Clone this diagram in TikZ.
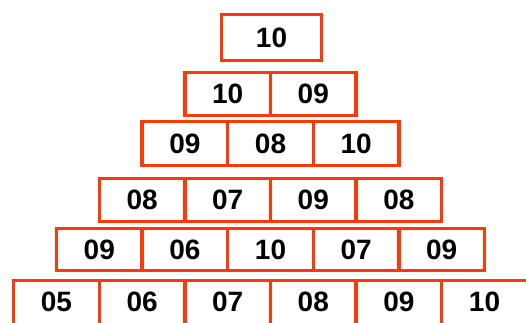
\documentclass[tikz,border=0pt]{standalone}
\usepackage{fontspec}
\setmainfont{Liberation Sans}
\definecolor{boxred}{RGB}{255,56,8}
\tikzset{
  cell/.style={draw=boxred, line width=3.3pt, rectangle, inner sep=0pt,
    minimum width=85.6pt, font=\fontsize{28}{30}\selectfont\bfseries, text=black},
  celltext/.style={inner sep=0pt, font=\fontsize{28}{30}\selectfont\bfseries, text=black},
}
\begin{document}
\begin{tikzpicture}[x=1pt,y=-1pt]
\useasboundingbox (0,0) rectangle (526,322);
\clip (0,0) rectangle (526,322);
% row 1
\node[cell, minimum width=100pt, minimum height=46pt] (r1c1) at (271.5,37.5) {10};
% row 2
\foreach \t [count=\j] in {10,09}
  \node[cell, minimum height=43pt] (r2c\j) at ({270.5+(\j-1.5)*85.6},94) {\t};
% row 3
\foreach \t [count=\j] in {09,08,10}
  \node[cell, minimum height=44pt] (r3c\j) at ({270.5+(\j-2)*85.6},143.5) {\t};
% row 4
\foreach \t [count=\j] in {08,07,09,08}
  \node[cell, minimum height=43pt] (r4c\j) at ({270.5+(\j-2.5)*85.6},200) {\t};
% row 5
\foreach \t [count=\j] in {09,06,10,07,09}
  \node[cell, minimum height=42pt] (r5c\j) at ({270.5+(\j-3)*85.6},249.5) {\t};
% row 6 (runs past the bottom edge)
\foreach \t [count=\j] in {05,06,07,08,09,10} {
  \node[cell, minimum height=52pt] (r6c\j) at ({270.5+(\j-3.5)*85.6},306.5) {};
  \node[celltext] (r6t\j) at ({270.5+(\j-3.5)*85.6},301.5) {\t};
}
\end{tikzpicture}
\end{document}
